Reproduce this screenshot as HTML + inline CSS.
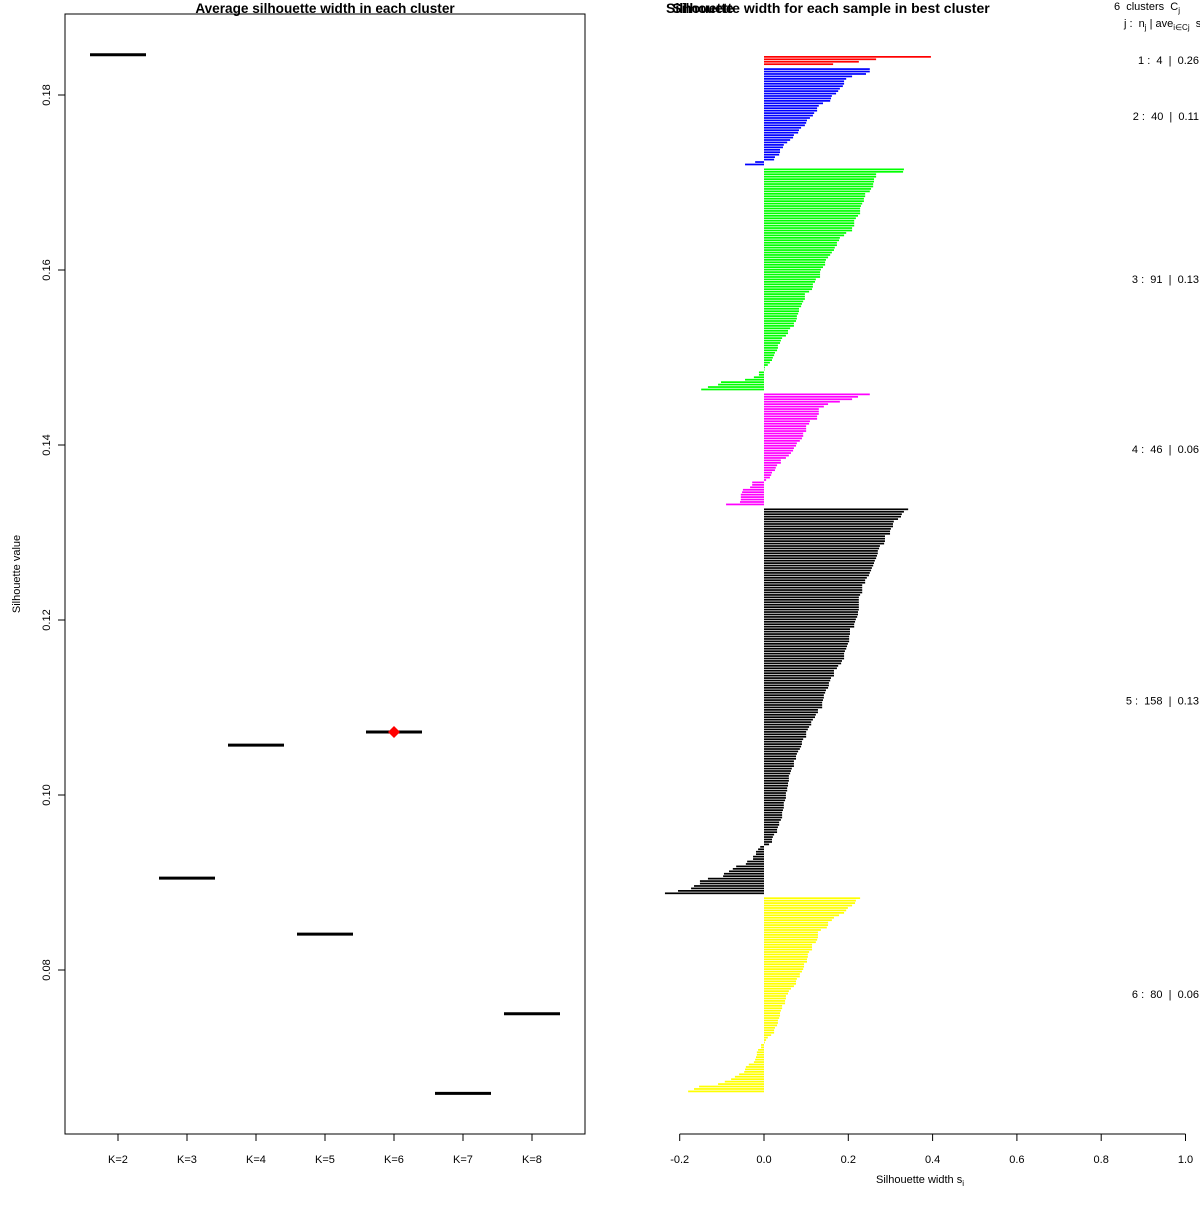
<!DOCTYPE html>
<html><head><meta charset="utf-8"><style>
html,body{margin:0;padding:0;background:#fff;}
svg text{font-family:"Liberation Sans",sans-serif;white-space:pre;}
</style></head><body>
<svg id="c" width="1200" height="1200" xmlns="http://www.w3.org/2000/svg" xml:space="preserve">
<rect width="1200" height="1200" fill="#fff"/>
<text x="325" y="13" text-anchor="middle" font-size="13.6" font-weight="bold">Average silhouette width in each cluster</text>
<rect x="65" y="14" width="520" height="1120" fill="none" stroke="#000"/>
<text transform="translate(20,574) rotate(-90)" text-anchor="middle" font-size="11">Silhouette value</text>
<g id="left"></g>
<text x="666" y="13" font-size="14" font-weight="bold">Silhouette</text>
<text x="831" y="13" text-anchor="middle" font-size="14" font-weight="bold">Silhouette width for each sample in best cluster</text>
<text x="1114" y="10" font-size="11">6  clusters  C<tspan font-size="8" dy="3">j</tspan></text>
<text x="1124" y="27" font-size="11">j :  n<tspan font-size="8" dy="3">j</tspan><tspan dy="-3"> | ave</tspan><tspan font-size="8" dy="3">i∈Cj</tspan><tspan dy="-3">  s</tspan><tspan font-size="8" dy="3">i</tspan></text>
<g id="right"></g>
<text x="920" y="1183" text-anchor="middle" font-size="11">Silhouette width s<tspan font-size="8" dy="3">i</tspan></text>
</svg>
<script>
const kLabels=["K=2","K=3","K=4","K=5","K=6","K=7","K=8"];
const avgWidth=[0.1846,0.0905,0.1057,0.0841,0.1072,0.0659,0.0750];
const bestIndex=4;
const yTicks=[0.08,0.10,0.12,0.14,0.16,0.18];

const clusterColors=["#ff0000","#0000ff","#00ff00","#ff00ff","#000000","#ffff00"];
const clusterLabels=["1 :  4  |  0.26","2 :  40  |  0.11","3 :  91  |  0.13","4 :  46  |  0.06","5 :  158  |  0.13","6 :  80  |  0.06"];
const c1=[0.396,0.266,0.225,0.164];
const c2=[0.251,0.251,0.242,0.209,0.195,0.190,0.190,0.187,0.180,0.176,0.171,0.161,0.159,0.157,0.140,0.130,0.126,0.126,0.119,0.116,0.109,0.102,0.100,0.097,0.088,0.083,0.081,0.071,0.069,0.062,0.055,0.047,0.045,0.038,0.038,0.036,0.026,0.024,-0.021,-0.045];
const c3=[0.332,0.330,0.266,0.266,0.261,0.261,0.259,0.259,0.254,0.251,0.240,0.240,0.237,0.237,0.233,0.230,0.228,0.228,0.228,0.223,0.218,0.214,0.214,0.214,0.209,0.209,0.195,0.190,0.180,0.178,0.173,0.173,0.168,0.166,0.161,0.157,0.152,0.147,0.145,0.145,0.140,0.135,0.133,0.133,0.133,0.123,0.121,0.116,0.116,0.114,0.107,0.097,0.097,0.097,0.093,0.090,0.088,0.083,0.083,0.081,0.078,0.078,0.076,0.071,0.071,0.062,0.057,0.057,0.052,0.043,0.040,0.038,0.033,0.033,0.031,0.026,0.024,0.021,0.019,0.014,0.009,0.002,0.001,-0.012,-0.012,-0.024,-0.045,-0.102,-0.109,-0.133,-0.149];
const c4=[0.251,0.223,0.209,0.180,0.152,0.142,0.130,0.130,0.130,0.126,0.126,0.109,0.107,0.100,0.100,0.100,0.093,0.093,0.090,0.085,0.078,0.076,0.071,0.069,0.064,0.059,0.052,0.040,0.040,0.031,0.028,0.026,0.019,0.017,0.014,0.005,-0.028,-0.028,-0.033,-0.050,-0.052,-0.055,-0.055,-0.055,-0.057,-0.090];
const c5=[0.342,0.332,0.327,0.325,0.318,0.308,0.306,0.306,0.301,0.299,0.299,0.287,0.287,0.287,0.285,0.275,0.273,0.270,0.270,0.268,0.266,0.263,0.261,0.259,0.256,0.254,0.251,0.249,0.244,0.240,0.240,0.233,0.233,0.233,0.233,0.228,0.225,0.225,0.225,0.225,0.225,0.225,0.223,0.223,0.221,0.218,0.216,0.214,0.214,0.204,0.204,0.204,0.202,0.202,0.202,0.199,0.197,0.195,0.192,0.190,0.190,0.190,0.185,0.183,0.176,0.173,0.166,0.166,0.166,0.159,0.157,0.154,0.154,0.152,0.147,0.145,0.142,0.142,0.140,0.138,0.138,0.138,0.128,0.128,0.123,0.121,0.116,0.112,0.112,0.107,0.104,0.100,0.100,0.100,0.093,0.090,0.090,0.088,0.085,0.081,0.078,0.076,0.076,0.071,0.071,0.071,0.066,0.064,0.062,0.059,0.059,0.059,0.057,0.057,0.055,0.055,0.052,0.052,0.052,0.050,0.047,0.047,0.047,0.045,0.043,0.043,0.043,0.040,0.036,0.036,0.033,0.031,0.031,0.024,0.021,0.019,0.019,0.012,-0.009,-0.014,-0.019,-0.019,-0.026,-0.026,-0.040,-0.043,-0.066,-0.074,-0.083,-0.095,-0.097,-0.133,-0.152,-0.152,-0.166,-0.173,-0.204,-0.235];
const c6=[0.228,0.218,0.216,0.209,0.199,0.195,0.190,0.178,0.166,0.161,0.152,0.152,0.149,0.135,0.128,0.128,0.128,0.126,0.123,0.114,0.114,0.114,0.107,0.104,0.104,0.102,0.102,0.095,0.095,0.093,0.090,0.085,0.085,0.078,0.076,0.076,0.071,0.064,0.059,0.057,0.052,0.052,0.050,0.050,0.043,0.043,0.040,0.038,0.038,0.036,0.033,0.033,0.031,0.026,0.024,0.024,0.017,0.009,0.005,0.002,-0.007,-0.007,-0.014,-0.017,-0.017,-0.019,-0.021,-0.024,-0.036,-0.043,-0.045,-0.047,-0.059,-0.069,-0.078,-0.093,-0.109,-0.154,-0.166,-0.180];
const xTicks=[-0.2,0,0.2,0.4,0.6,0.8,1.0];

const NS="http://www.w3.org/2000/svg";
function mk(tag,attrs,parent){const e=document.createElementNS(NS,tag);for(const k in attrs)e.setAttribute(k,attrs[k]);parent.appendChild(e);return e;}

// left panel
const L=document.getElementById('left');
const yL=v=>795-(v-0.10)*8750;
const xL=i=>118+i*69;
yTicks.forEach(t=>{
  const tk=mk('line',{x1:58,x2:65,y1:yL(t),y2:yL(t),stroke:'#000'},L);
  
  
  const tl=mk('text',{transform:`translate(50,${yL(t)}) rotate(-90)`,'text-anchor':'middle','font-size':11},L);
  tl.textContent=t.toFixed(2);
  
  
});
kLabels.forEach((k,i)=>{
  const tk=mk('line',{x1:xL(i),x2:xL(i),y1:1134,y2:1141,stroke:'#000'},L);
  
  
  const tl=mk('text',{x:xL(i),y:1163,'text-anchor':'middle','font-size':11},L);
  tl.textContent=k;
  
  
  const s=mk('line',{x1:xL(i)-28,x2:xL(i)+28,y1:yL(avgWidth[i]),y2:yL(avgWidth[i]),stroke:'#000','stroke-width':3},L);
  
  
});
{const cx=xL(bestIndex),cy=yL(avgWidth[bestIndex]);
const d=mk('polygon',{points:`${cx},${cy-6} ${cx+6},${cy} ${cx},${cy+6} ${cx-6},${cy}`,fill:'#ff0000'},L);

}

// right panel
const R=document.getElementById('right');
const x0=764,sc=421.5;
const xR=v=>x0+v*sc;
const clusters=[c1,c2,c3,c4,c5,c6];
const totalUnits=clusters.reduce((a,c)=>a+c.length,0)+clusters.length-1;
const barTop=56,barBottom=1093,pitch=(barBottom-barTop)/totalUnits;
let idx=0;
clusters.forEach((c,ci)=>{
  const vals=c.slice().sort((a,b)=>b-a);
  const start=idx;
  vals.forEach(v=>{
    const y=barTop+idx*pitch;
    const b=mk('rect',{x:Math.min(xR(0),xR(v)),y:y,width:Math.abs(xR(v)-xR(0)),height:pitch*0.7,fill:clusterColors[ci]},R);
    
    
    idx++;
  });
  const mid=barTop+(start+idx)/2*pitch;
  const t=mk('text',{x:1199,y:mid+3,'text-anchor':'end','font-size':11},R);
  t.textContent=clusterLabels[ci];
  
  
  idx++;
});
const ax=mk('line',{x1:xR(-0.2),x2:xR(1.0),y1:1134,y2:1134,stroke:'#000'},R);


xTicks.forEach(t=>{
  const tk=mk('line',{x1:xR(t),x2:xR(t),y1:1134,y2:1141,stroke:'#000'},R);
  
  
  const tl=mk('text',{x:xR(t),y:1163,'text-anchor':'middle','font-size':11},R);
  tl.textContent=t.toFixed(1);
  
  
});
</script>
</body></html>
